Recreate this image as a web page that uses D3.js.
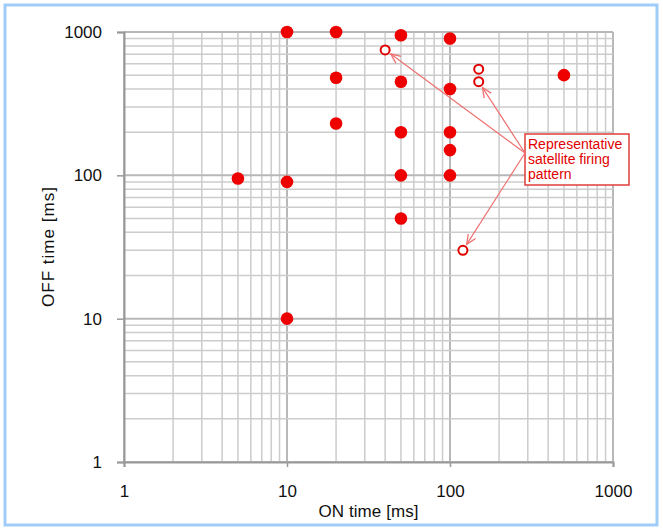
<!DOCTYPE html>
<html>
<head>
<meta charset="utf-8">
<script src="https://cdn.jsdelivr.net/npm/d3@7"></script>
<style>
  body { margin: 0; background: #fff; }
  text { font-family: "Liberation Sans", Arial, sans-serif; }
</style>
</head>
<body>
<svg id="chart" width="663" height="529"></svg>
<script>
// measured firing patterns (filled)
let onTimes  = [5, 10, 10, 10, 20, 20, 20, 50, 50, 50, 50, 50, 100, 100, 100, 100, 100, 500];
let offTimes = [95, 90, 1000, 10, 1000, 480, 230, 950, 450, 200, 100, 50, 900, 400, 200, 150, 100, 500];

// representative satellite firing patterns (hollow)
let repOn  = [40, 150, 150, 120];
let repOff = [750, 550, 450, 30];
// which hollow points get an arrow
let arrowTargets = [0, 2, 3];

let tickValues = [1, 10, 100, 1000];
let noteLines = ["Representative", "satellite firing", "pattern"];

let svg = d3.select("#chart");
let margin = {top: 32, left: 124, right: 50, bottom: 67};
let width = 663, height = 529;

let x = d3.scaleLog().domain([1, 1000]).range([margin.left, width - margin.right]);
let y = d3.scaleLog().domain([1, 1000]).range([height - margin.bottom, margin.top]);

// outer frame
svg.append("rect")
  .attr("x", 5).attr("y", 5).attr("width", 652).attr("height", 520)
  .attr("fill", "none").attr("stroke", "#9fcdf7").attr("stroke-width", 3);

// grid lines for every 1..9 per decade
let gridVals = [];
for (let d = 1; d < 1000; d *= 10) {
  for (let k = 1; k < 10; k++) gridVals.push(d * k);
}
gridVals.push(1000);

let grid = svg.append("g");
grid.selectAll(".vgrid").data(gridVals).enter().append("line")
  .attr("x1", d => x(d)).attr("x2", d => x(d))
  .attr("y1", y(1)).attr("y2", y(1000))
  .attr("stroke", d => tickValues.includes(d) ? "#b8b8b8" : "#cccccc")
  .attr("stroke-width", d => tickValues.includes(d) ? 2 : 1.5);
grid.selectAll(".hgrid").data(gridVals).enter().append("line")
  .attr("x1", x(1)).attr("x2", x(1000))
  .attr("y1", d => y(d)).attr("y2", d => y(d))
  .attr("stroke", d => tickValues.includes(d) ? "#b8b8b8" : "#cccccc")
  .attr("stroke-width", d => tickValues.includes(d) ? 2 : 1.5);

// axes
let xAxis = svg.append("g")
  .attr("transform", "translate(0," + y(1) + ")")
  .call(d3.axisBottom(x).tickValues(tickValues).tickFormat(d3.format("d")).tickSize(5).tickPadding(18));
let yAxis = svg.append("g")
  .attr("transform", "translate(" + x(1) + ",0)")
  .call(d3.axisLeft(y).tickValues(tickValues).tickFormat(d3.format("d")).tickSize(7).tickPadding(15));

[xAxis, yAxis].forEach(a => {
  a.select(".domain").attr("stroke", "#999").attr("stroke-width", 2);
  a.selectAll(".tick line").attr("stroke", "#999").attr("stroke-width", 1.5);
  a.selectAll("text").attr("font-size", 17).attr("fill", "#111")
    .style("font-family", "'Liberation Sans', Arial, sans-serif");
});

// axis titles
svg.append("text")
  .attr("x", (x(1) + x(1000)) / 2).attr("y", 517)
  .attr("text-anchor", "middle").attr("font-size", 17).attr("fill", "#111")
  .attr("textLength", 100)
  .text("ON time [ms]");
svg.append("text")
  .attr("transform", "translate(54," + (y(1) + y(1000)) / 2 + ") rotate(-90)")
  .attr("text-anchor", "middle").attr("font-size", 17).attr("fill", "#111")
  .attr("textLength", 120)
  .text("OFF time [ms]");

// filled points
svg.selectAll(".pt").data(onTimes).enter().append("circle")
  .attr("cx", d => x(d))
  .attr("cy", (d, i) => y(offTimes[i]))
  .attr("r", 6.3)
  .attr("fill", "#ee0000");

// hollow points
svg.selectAll(".rep").data(repOn).enter().append("circle")
  .attr("cx", d => x(d))
  .attr("cy", (d, i) => y(repOff[i]))
  .attr("r", 4.5)
  .attr("fill", "#fff")
  .attr("stroke", "#e00000")
  .attr("stroke-width", 2);

// annotation box
let box = {x: 525, y: 134, w: 104, h: 51};
svg.append("rect")
  .attr("x", box.x).attr("y", box.y).attr("width", box.w).attr("height", box.h)
  .attr("fill", "#fff").attr("stroke", "#e03c3c").attr("stroke-width", 1.5);
svg.append("text")
  .attr("x", box.x + 3).attr("y", box.y + 15)
  .attr("font-size", 14).attr("fill", "#e00000")
  .selectAll("tspan").data(noteLines).enter().append("tspan")
  .attr("x", box.x + 3).attr("dy", (d, i) => i === 0 ? 0 : 15)
  .text(d => d);

// arrows from the box to the representative points
svg.append("defs").append("marker")
  .attr("id", "head").attr("viewBox", "0 0 10 10")
  .attr("refX", 9).attr("refY", 5)
  .attr("markerWidth", 9).attr("markerHeight", 9)
  .attr("orient", "auto")
  .append("path").attr("d", "M0,1 L9,5 L0,9")
  .attr("fill", "none").attr("stroke", "#ef7070").attr("stroke-width", 1.2);

let start = {x: box.x, y: box.y + 19};
arrowTargets.forEach(i => {
  let tx = x(repOn[i]), ty = y(repOff[i]);
  let dx = start.x - tx, dy = start.y - ty;
  let len = Math.sqrt(dx * dx + dy * dy);
  let off = 7;
  svg.append("line")
    .attr("x1", start.x).attr("y1", start.y)
    .attr("x2", tx + dx / len * off).attr("y2", ty + dy / len * off)
    .attr("stroke", "#ef7070").attr("stroke-width", 1.2)
    .attr("marker-end", "url(#head)");
});
</script>
</body>
</html>
